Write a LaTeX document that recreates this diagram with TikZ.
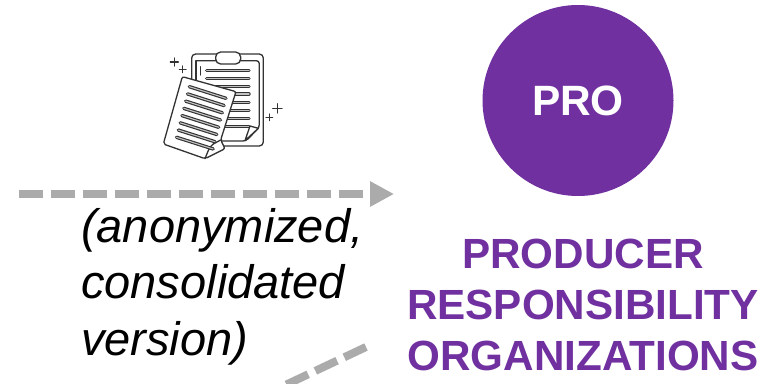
\documentclass[tikz,border=0pt]{standalone}
\usepackage{fontspec}
\setmainfont{Liberation Sans}
\usetikzlibrary{arrows.meta}
\definecolor{pro}{HTML}{7030A0}
\definecolor{arrowgrey}{HTML}{ABABAB}
\definecolor{ink}{HTML}{333333}
\tikzset{
  flow/.style={line width=8pt,draw=arrowgrey,dash pattern=on 24pt off 8pt},
  ic/.style={draw=ink,line width=1.3pt,line join=round,line cap=round},
  strip/.style={draw=ink,line width=3.4pt,line cap=round},
  stripin/.style={draw=white!70!ink,line width=1.1pt,line cap=round},
  note/.style={font=\fontsize{47}{56.5}\selectfont\itshape,align=left,anchor=north west,inner sep=0pt},
  title/.style={font=\fontsize{42.2}{51}\selectfont\bfseries,text=pro,align=center,inner sep=0pt}
}
\begin{document}
\begin{tikzpicture}[x=1pt,y=-1pt]
\useasboundingbox (0,0) rectangle (781,383);
\clip (0,0) rectangle (781,383);
\fill[white] (0,0) rectangle (781,383);
% icon
\begin{scope}[shift={(150,40)},x=0.3333pt,y=-0.3333pt]
 \draw[ic,rounded corners=4pt] (125,42) rectangle (340,318);
 \draw[ic,rounded corners=3pt] (138,62) -- (328,62) -- (328,262) -- (288,303) -- (170,303);
 \draw[ic] (138,62) -- (138,120);
 \draw[ic,fill=white,rounded corners=5pt] (197,36) rectangle (272,72);
 \foreach \y in {92,115,140,162,187,211,235,260}{
   \draw[strip] (170,\y) -- (297,\y);
   \draw[stripin] (170,\y) -- (297,\y);
 }
 \draw[ic] (152,80) -- (152,105);
 \draw[ic,fill=white] (300,258) -- (285,302) -- (325,265) -- cycle;
 \draw[ic,fill=white,rounded corners=2pt] (97,110) -- (258,155) -- (212,300) -- (225,326) -- (165,356) -- (40,312) -- cycle;
 \draw[ic] (190,312) .. controls (176,322) and (172,340) .. (165,356);
 \draw[ic] (190,312) -- (212,300);
 \foreach \i in {0,...,7}{
   \draw[strip] ({118-5.5*\i},{140+21.7*\i}) -- ({228-5.5*\i},{175+21.7*\i});
   \draw[stripin] ({118-5.5*\i},{140+21.7*\i}) -- ({228-5.5*\i},{175+21.7*\i});
 }
 \draw[ic] (61,66) -- (85,66) (73,54) -- (73,78);
 \draw[ic] (88,88) -- (108,88) (98,78) -- (98,98);
 \draw[ic] (368,205) -- (396,205) (382,191) -- (382,219);
 \draw[ic] (348,232) -- (368,232) (358,222) -- (358,242);
\end{scope}
% circle
\node[circle,fill=pro,minimum size=191pt,inner sep=0pt,text=white,font=\fontsize{42.4}{42.4}\selectfont\bfseries] (pro) at (578,100.5) {PRO};
% connectors
\coordinate (a1) at (19,194);
\coordinate (a2) at (394,194);
\coordinate (b1) at (366,347);
\coordinate (b2) at (277,389);
\draw[flow,-{Triangle[length=24pt,width=24pt]}] (a1) -- (a2);
\draw[flow] (b1) -- (b2);
% text
\node[note] (note) at (81,208) {(anonymized,\\consolidated\\version)};
\node[title] (title) at (583,305) {PRODUCER\\RESPONSIBILITY\\ORGANIZATIONS};
\end{tikzpicture}
\end{document}
